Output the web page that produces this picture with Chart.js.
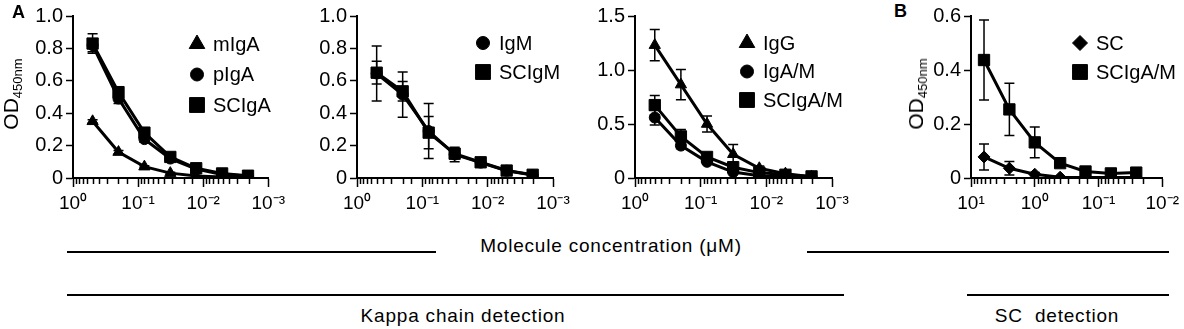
<!DOCTYPE html>
<html>
<head>
<meta charset="utf-8">
<script src="https://cdn.jsdelivr.net/npm/chart.js@4.4.0/dist/chart.umd.min.js"></script>
<style>
  body { margin: 0; background: #fff; width: 1184px; height: 329px; position: relative; overflow: hidden;
         font-family: "Liberation Sans", Arial, sans-serif; color: #000; }
  canvas { position: absolute; top: 0; }
  .tag { position: absolute; font-weight: bold; font-size: 18px; line-height: 18px; }
  .ytitle { position: absolute; font-size: 21px; line-height: 21px; white-space: nowrap;
            transform: translate(-50%, -50%) rotate(-90deg); }
  .ytitle span { font-size: 13px; position: relative; top: 4px; }
  .hl { position: absolute; height: 0; border-top: 2px solid #000; }
  .lbl { position: absolute; font-size: 19px; line-height: 19px; letter-spacing: 0.8px; white-space: pre;
         transform: translateX(-50%); }
</style>
</head>
<body>
<canvas id="chartA1" width="290" height="220" style="left:0px"></canvas>
<canvas id="chartA2" width="285" height="220" style="left:290px"></canvas>
<canvas id="chartA3" width="285" height="220" style="left:575px"></canvas>
<canvas id="chartB" width="264" height="220" style="left:920px"></canvas>

<div class="tag" style="left:12px; top:3px">A</div>
<div class="tag" style="left:894px; top:2px">B</div>
<div class="ytitle" style="left:12px; top:94px">OD<span>450nm</span></div>
<div class="ytitle" style="left:917px; top:94px">OD<span>450nm</span></div>

<div class="hl" style="left:67px; top:251px; width:369px"></div>
<div class="hl" style="left:807px; top:251px; width:362px"></div>
<div class="lbl" style="left:611px; top:236px">Molecule concentration (μM)</div>
<div class="hl" style="left:67px; top:294px; width:777px"></div>
<div class="hl" style="left:967px; top:294px; width:202px"></div>
<div class="lbl" style="left:463px; top:306px">Kappa chain detection</div>
<div class="lbl" style="left:1057px; top:306px">SC  detection</div>

<script>
// concentrations (uM), 2.5 fold dilutions
var concA = [0.5, 0.2, 0.08, 0.032, 0.0128, 0.00512, 0.002048];
var concB = [6.25, 2.5, 1, 0.4, 0.16, 0.064, 0.0256];

var decadesA = [1, 0.1, 0.01, 0.001];
var decadeLabelsA = ['10⁰', '10⁻¹', '10⁻²', '10⁻³'];
var decadesB = [10, 1, 0.1, 0.01];
var decadeLabelsB = ['10¹', '10⁰', '10⁻¹', '10⁻²'];

// panel 1
var mIgA = [0.35, 0.16, 0.07, 0.03, 0.012, 0.006, 0.004];
var mIgAErr = [0.01, 0.01, 0.005, 0.005, 0.003, 0.002, 0.002];
var pIgA = [0.82, 0.49, 0.24, 0.12, 0.055, 0.022, 0.012];
var pIgAErr = [0.04, 0.03, 0.02, 0.01, 0.005, 0.004, 0.003];
var SCIgA = [0.83, 0.53, 0.28, 0.13, 0.06, 0.028, 0.014];
var SCIgAErr = [0.06, 0.03, 0.02, 0.01, 0.008, 0.005, 0.004];

// panel 2
var IgM = [0.645, 0.515, 0.29, 0.145, 0.095, 0.045, 0.018];
var IgMErr = [0.17, 0.14, 0.17, 0.045, 0.01, 0.01, 0.005];
var SCIgM = [0.65, 0.535, 0.28, 0.15, 0.097, 0.046, 0.02];
var SCIgMErr = [0.07, 0.06, 0.1, 0.03, 0.01, 0.01, 0.005];

// panel 3
var IgG = [1.23, 0.865, 0.5, 0.22, 0.09, 0.04, 0.012];
var IgGErr = [0.145, 0.14, 0.075, 0.09, 0.02, 0.01, 0.005];
var IgAM = [0.56, 0.3, 0.15, 0.055, 0.02, 0.015, 0.01];
var IgAMErr = [0.07, 0.03, 0.02, 0.01, 0.005, 0.005, 0.005];
var SCIgAM = [0.675, 0.385, 0.195, 0.1, 0.05, 0.03, 0.015];
var SCIgAMErr = [0.09, 0.065, 0.03, 0.03, 0.01, 0.01, 0.005];

// panel B
var SC = [0.078, 0.036, 0.014, 0.003, 0.002, 0.002, 0.002];
var SCErr = [0.048, 0.025, 0.006, 0.002, 0.002, 0.002, 0.002];
var SCIgAMb = [0.437, 0.254, 0.132, 0.055, 0.024, 0.017, 0.02];
var SCIgAMbErr = [0.148, 0.097, 0.057, 0.008, 0.01, 0.008, 0.015];

var FONT = '"Liberation Sans", Arial, sans-serif';

function isDecade(v) {
  var l = Math.log10(v);
  return Math.abs(l - Math.round(l)) < 1e-6;
}

var errorBars = {
  id: 'errorBars',
  afterDatasetsDraw: function (chart) {
    var c = chart.ctx, xs = chart.scales.x, ys = chart.scales.y;
    c.save();
    c.strokeStyle = '#000';
    c.lineWidth = 1.5;
    chart.data.datasets.forEach(function (ds) {
      if (!ds.errors) return;
      ds.data.forEach(function (p, i) {
        var e = ds.errors[i];
        var x = xs.getPixelForValue(p.x);
        var yTop = ys.getPixelForValue(p.y + e);
        var yBot = ys.getPixelForValue(Math.max(p.y - e, 0));
        c.beginPath();
        c.moveTo(x, yTop); c.lineTo(x, yBot);
        c.moveTo(x - 5, yTop); c.lineTo(x + 5, yTop);
        c.moveTo(x - 5, yBot); c.lineTo(x + 5, yBot);
        c.stroke();
      });
    });
    c.restore();
  }
};

var minorTicks = {
  id: 'minorTicks',
  afterDraw: function (chart) {
    var c = chart.ctx, xs = chart.scales.x;
    c.save();
    c.strokeStyle = '#000';
    c.lineWidth = 1.5;
    xs.ticks.forEach(function (t) {
      if (isDecade(t.value)) return;
      var x = Math.round(xs.getPixelForValue(t.value)) + 0.5;
      c.beginPath();
      c.moveTo(x, xs.top);
      c.lineTo(x, xs.top + 6);
      c.stroke();
    });
    c.restore();
  }
};

var sideLegend = {
  id: 'sideLegend',
  afterDraw: function (chart, args, opts) {
    var c = chart.ctx;
    c.save();
    c.fillStyle = '#000';
    c.strokeStyle = '#000';
    c.font = '20px ' + FONT;
    c.textBaseline = 'middle';
    chart.data.datasets.forEach(function (ds, i) {
      var y = opts.y + i * opts.dy;
      Chart.helpers.drawPoint(c, { pointStyle: ds.pointStyle, radius: ds.legendRadius, rotation: 0, borderWidth: 1 }, opts.x, y);
      c.fillText(ds.label, opts.x + 16, y + 1);
    });
    c.restore();
  }
};

function series(label, conc, values, errors, style, radius, legendRadius, order) {
  return {
    label: label,
    data: conc.map(function (x, i) { return { x: x, y: values[i] }; }),
    errors: errors,
    borderColor: '#000',
    backgroundColor: '#000',
    borderWidth: 3,
    pointStyle: style,
    pointRadius: radius,
    pointBorderWidth: 1,
    legendRadius: legendRadius,
    order: order
  };
}

function makeChart(id, datasets, o) {
  return new Chart(document.getElementById(id), {
    type: 'line',
    data: { datasets: datasets },
    plugins: [errorBars, minorTicks, sideLegend],
    options: {
      responsive: false,
      animation: false,
      layout: { padding: { top: 16, right: o.padRight, left: 0, bottom: 0 } },
      plugins: {
        legend: { display: false },
        tooltip: { enabled: false },
        sideLegend: o.legend
      },
      scales: {
        x: {
          type: 'logarithmic',
          reverse: true,
          min: o.xMin,
          max: o.xMax,
          border: { color: '#000', width: 2 },
          grid: {
            drawOnChartArea: false,
            tickLength: 9,
            tickWidth: 1.5,
            tickColor: function (ctx) { return isDecade(ctx.tick.value) ? '#000' : 'rgba(0,0,0,0)'; }
          },
          ticks: {
            autoSkip: false,
            maxRotation: 0,
            padding: 5,
            color: '#000',
            font: { family: FONT, size: 19 },
            callback: function (v) {
              for (var i = 0; i < o.decades.length; i++) {
                if (Math.abs(v - o.decades[i]) / o.decades[i] < 1e-6) return o.decadeLabels[i];
              }
              return '';
            }
          },
          afterFit: function (s) { s.height = 42; }
        },
        y: {
          min: 0,
          max: o.yMax,
          border: { color: '#000', width: 2 },
          grid: { drawOnChartArea: false, tickLength: 7, tickWidth: 1.5, tickColor: '#000' },
          ticks: {
            stepSize: o.yStep,
            padding: 3,
            color: '#000',
            font: { family: FONT, size: 20 },
            callback: function (v) { return v === 0 ? '0' : v.toFixed(1); }
          },
          afterFit: function (s) { s.width = o.yWidth; }
        }
      }
    }
  });
}

makeChart('chartA1', [
  series('mIgA', concA, mIgA, mIgAErr, 'triangle', 6.5, 9, 2),
  series('pIgA', concA, pIgA, pIgAErr, 'circle', 5.5, 6.5, 1),
  series('SCIgA', concA, SCIgA, SCIgAErr, 'rect', 8, 10.5, 0)
], { xMin: 0.001, xMax: 1, decades: decadesA, decadeLabels: decadeLabelsA, yMax: 1, yStep: 0.2,
     yWidth: 73, padRight: 19, legend: { x: 197, y: 44, dy: 30.5 } });

makeChart('chartA2', [
  series('IgM', concA, IgM, IgMErr, 'circle', 5.5, 6.5, 1),
  series('SCIgM', concA, SCIgM, SCIgMErr, 'rect', 8, 10.5, 0)
], { xMin: 0.001, xMax: 1, decades: decadesA, decadeLabels: decadeLabelsA, yMax: 1, yStep: 0.2,
     yWidth: 67, padRight: 22, legend: { x: 193, y: 43, dy: 29 } });

makeChart('chartA3', [
  series('IgG', concA, IgG, IgGErr, 'triangle', 6.5, 9, 2),
  series('IgA/M', concA, IgAM, IgAMErr, 'circle', 5.5, 6.5, 1),
  series('SCIgA/M', concA, SCIgAM, SCIgAMErr, 'rect', 8, 10.5, 0)
], { xMin: 0.001, xMax: 1, decades: decadesA, decadeLabels: decadeLabelsA, yMax: 1.5, yStep: 0.5,
     yWidth: 60, padRight: 28, legend: { x: 172, y: 43, dy: 28.5 } });

makeChart('chartB', [
  series('SC', concB, SC, SCErr, 'rectRot', 6, 7.5, 1),
  series('SCIgA/M', concB, SCIgAMb, SCIgAMbErr, 'rect', 8, 10.5, 0)
], { xMin: 0.01, xMax: 10, decades: decadesB, decadeLabels: decadeLabelsB, yMax: 0.6, yStep: 0.2,
     yWidth: 51, padRight: 16, legend: { x: 160, y: 43, dy: 29 } });
</script>
</body>
</html>
